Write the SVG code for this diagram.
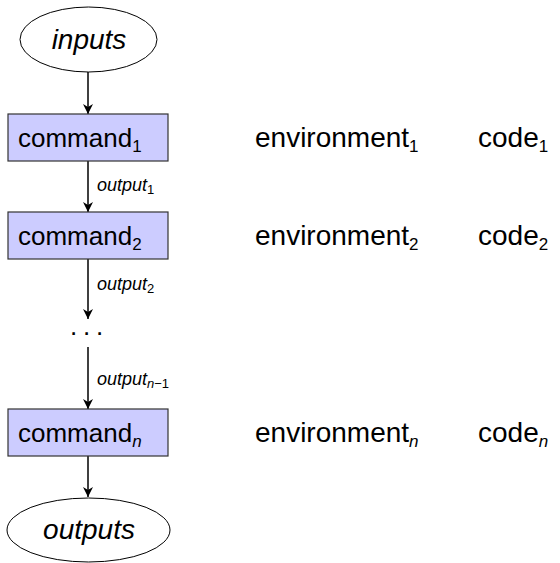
<svg xmlns="http://www.w3.org/2000/svg" width="560" height="563" viewBox="0 0 560 563">
<defs>
<marker id="ah" viewBox="0 0 10 12" refX="10" refY="6" markerWidth="10" markerHeight="12" markerUnits="userSpaceOnUse" orient="auto">
<path d="M0,1 L10,6 L0,11 L3,6 z" fill="#000"/>
</marker>
<style>
.t{font-family:"Liberation Sans",Arial,sans-serif;font-size:26px;fill:#000}
.r{font-family:"Liberation Sans",Arial,sans-serif;font-size:28px;fill:#000}
.i{font-family:"Liberation Sans",Arial,sans-serif;font-size:28px;font-style:italic;fill:#000}
.l{font-family:"Liberation Sans",Arial,sans-serif;font-size:18px;font-style:italic;fill:#000}
.s{font-size:17px}
.ls{font-size:13px;font-style:normal}
.lsi{font-size:13px;font-style:italic}
.box{fill:#ccccff;stroke:#333;stroke-width:1.2}
.ell{fill:#fff;stroke:#000;stroke-width:1}
.c{stroke:#000;stroke-width:1.5;fill:none;marker-end:url(#ah)}
</style>
</defs>
<rect width="560" height="563" fill="#fff"/>
<g id="connectors">
<line class="c" x1="88" y1="72" x2="88" y2="114"/>
<line class="c" x1="88" y1="161" x2="88" y2="212"/>
<line class="c" x1="88" y1="259" x2="88" y2="319"/>
<line class="c" x1="88" y1="347" x2="88" y2="409"/>
<line class="c" x1="88" y1="456" x2="88" y2="497"/>
<text class="l" x="97" y="191">output<tspan class="ls" dy="3">1</tspan></text>
<text class="l" x="97" y="290">output<tspan class="ls" dy="3">2</tspan></text>
<text class="l" x="97" y="385">output<tspan class="lsi" dy="3">n</tspan><tspan class="ls">−1</tspan></text>
</g>
<g id="inputs">
<ellipse class="ell" cx="88.5" cy="39.5" rx="68.5" ry="32.5"/>
<text class="i" x="89" y="49" text-anchor="middle">inputs</text>
</g>
<g id="command1">
<rect class="box" x="8" y="114" width="160" height="47"/>
<text class="t" x="18" y="147">command<tspan class="s" dy="5">1</tspan></text>
</g>
<g id="command2">
<rect class="box" x="8" y="212" width="160" height="47"/>
<text class="t" x="18" y="245">command<tspan class="s" dy="5">2</tspan></text>
</g>
<g id="dots">
<text class="t" x="70 83 96" y="335">...</text>
</g>
<g id="commandn">
<rect class="box" x="8" y="409" width="160" height="47"/>
<text class="t" x="18" y="442">command<tspan class="s" dy="5" font-style="italic">n</tspan></text>
</g>
<g id="outputs">
<ellipse class="ell" cx="88.5" cy="530" rx="81.5" ry="32"/>
<text class="i" x="89" y="539" text-anchor="middle">outputs</text>
</g>
<g id="env1"><text class="r" x="255" y="147">environment<tspan class="s" dy="5">1</tspan></text></g>
<g id="code1"><text class="r" x="478" y="147">code<tspan class="s" dy="5">1</tspan></text></g>
<g id="env2"><text class="r" x="255" y="245">environment<tspan class="s" dy="5">2</tspan></text></g>
<g id="code2"><text class="r" x="478" y="245">code<tspan class="s" dy="5">2</tspan></text></g>
<g id="envn"><text class="r" x="255" y="442">environment<tspan class="s" dy="5" font-style="italic">n</tspan></text></g>
<g id="coden"><text class="r" x="478" y="442">code<tspan class="s" dy="5" font-style="italic">n</tspan></text></g>
</svg>
